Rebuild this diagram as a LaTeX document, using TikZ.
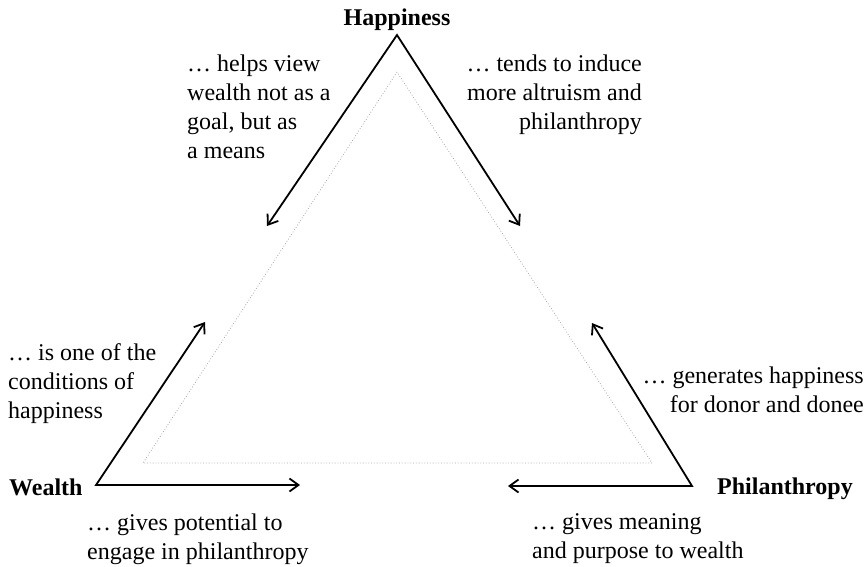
\documentclass[tikz,border=0pt]{standalone}
\usepackage{fontspec}
\setmainfont{Liberation Serif}
\usetikzlibrary{arrows.meta}

\tikzset{
  txt/.style={inner sep=0pt, font=\fontsize{24}{29}\selectfont},
  vlabel/.style={inner sep=0pt, font=\fontsize{24}{29}\selectfont\bfseries},
  link/.style={line width=1.8pt, line join=miter,
    {Straight Barb[length=9pt,width=13pt]}-{Straight Barb[length=9pt,width=13pt]}},
  guide/.style={line width=0.8pt, dotted, color=black!35}
}

\begin{document}
\begin{tikzpicture}[x=1pt,y=-1pt]
  \useasboundingbox (0,0) rectangle (868,566);

  % corners of the outer triangle
  \coordinate (H) at (397,35);
  \coordinate (W) at (96,485);
  \coordinate (P) at (692,486);

  % free ends of the arrows
  \coordinate (HW) at (267,226);
  \coordinate (HP) at (520,226);
  \coordinate (WH) at (205,322);
  \coordinate (WP) at (300,485);
  \coordinate (PH) at (592,323);
  \coordinate (PW) at (508,486);

  % inner dotted triangle
  \coordinate (iH) at (397,72);
  \coordinate (iW) at (143,463);
  \coordinate (iP) at (652,463);
  \draw[guide] (iH) -- (iW) -- (iP) -- cycle;

  % arrows leaving each corner
  \draw[link] (HW) -- (H) -- (HP);
  \draw[link] (WH) -- (W) -- (WP);
  \draw[link] (PH) -- (P) -- (PW);

  % corner labels
  \node[vlabel, anchor=base] (happiness) at (397,25) {Happiness};
  \node[vlabel, anchor=base west] (wealth) at (9,495) {Wealth};
  \node[vlabel, anchor=base west] (philanthropy) at (717,494) {Philanthropy};

  % edge descriptions (anchored at the baseline of their last line)
  \node[txt, align=left, anchor=base west] (thw) at (187,158)
    {… helps view\\wealth not as a\\goal, but as\\a means};
  \node[txt, align=right, anchor=base east] (thp) at (642,129)
    {… tends to induce\\more altruism and\\philanthropy};
  \node[txt, align=left, anchor=base west] (twh) at (8,418)
    {… is one of the\\conditions of\\happiness};
  \node[txt, align=left, anchor=base west] (twp) at (87,559)
    {… gives potential to\\engage in philanthropy};
  \node[txt, align=right, anchor=base east] (tph) at (864,412)
    {… generates happiness\\for donor and donee};
  \node[txt, align=left, anchor=base west] (tpw) at (532,558)
    {… gives meaning\\and purpose to wealth};
\end{tikzpicture}
\end{document}
